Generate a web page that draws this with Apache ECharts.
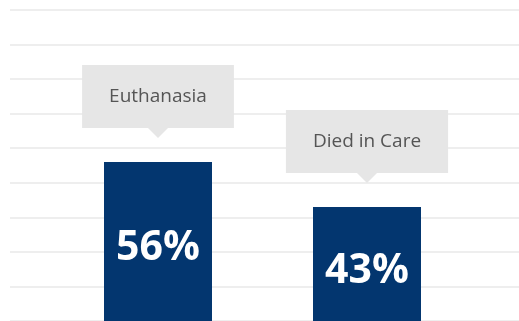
<!DOCTYPE html>
<html>
<head>
<meta charset="utf-8">
<script src="https://cdn.jsdelivr.net/npm/echarts@6/dist/echarts.min.js"></script>
<style>
html, body { margin: 0; padding: 0; background: #fff; }
#chart_block { width: 519px; height: 321px; }
</style>
</head>
<body>
<div id="chart_block"></div>
<script>
var categories = ['Euthanasia', 'Died in Care'];
var values = [56, 43];
var axis_min = 10;
var axis_max = 100;
var axis_step = 10;

const barColor = '#03366f';
const calloutColor = '#e6e6e6';

var chartDom = document.getElementById('chart_block');
var myChart = echarts.init(chartDom);

var callouts = values.map(function (v, i) { return [i, v]; });

var option = {
  animation: false,
  grid: [
    { left: 10, right: 0, top: 10, height: 313 },
    { left: 53.5, right: 47.5, top: 10, height: 313 }
  ],
  xAxis: [
    { type: 'value', gridIndex: 0, show: false, min: 0, max: 1 },
    { type: 'category', gridIndex: 1, data: categories, show: false }
  ],
  yAxis: [
    {
      type: 'value', gridIndex: 0,
      min: axis_min, max: axis_max, interval: axis_step,
      axisLine: { show: false }, axisTick: { show: false }, axisLabel: { show: false },
      splitLine: { show: true, lineStyle: { color: '#e8e8e8', width: 1.5 } }
    },
    {
      type: 'value', gridIndex: 1,
      min: axis_min, max: axis_max, interval: axis_step,
      show: false, splitLine: { show: false }
    }
  ],
  series: [
    {
      type: 'bar',
      xAxisIndex: 1,
      yAxisIndex: 1,
      data: values,
      barWidth: 108,
      itemStyle: { color: barColor },
      label: {
        show: true,
        position: 'inside',
        offset: [0, 7],
        formatter: '{c}%',
        color: '#fff',
        fontFamily: 'Open Sans',
        fontWeight: 'bold',
        fontSize: 41
      }
    },
    {
      type: 'custom',
      xAxisIndex: 1,
      yAxisIndex: 1,
      data: callouts,
      encode: { x: 0, y: 1 },
      renderItem: function (params, api) {
        var p = api.coord([api.value(0), api.value(1)]);
        var tipY = p[1] - 24;
        return {
          type: 'group',
          children: [
            {
              type: 'polygon',
              shape: { points: [[p[0] - 10, tipY - 10], [p[0] + 10, tipY - 10], [p[0], tipY]] },
              style: { fill: calloutColor }
            },
            {
              type: 'text',
              x: p[0],
              y: tipY - 10,
              style: {
                text: categories[params.dataIndex],
                fill: '#555',
                fontFamily: 'Open Sans',
                fontSize: 19,
                align: 'center',
                verticalAlign: 'bottom',
                backgroundColor: calloutColor,
                padding: [22, 27]
              }
            }
          ]
        };
      }
    }
  ]
};

myChart.setOption(option);
</script>
</body>
</html>
